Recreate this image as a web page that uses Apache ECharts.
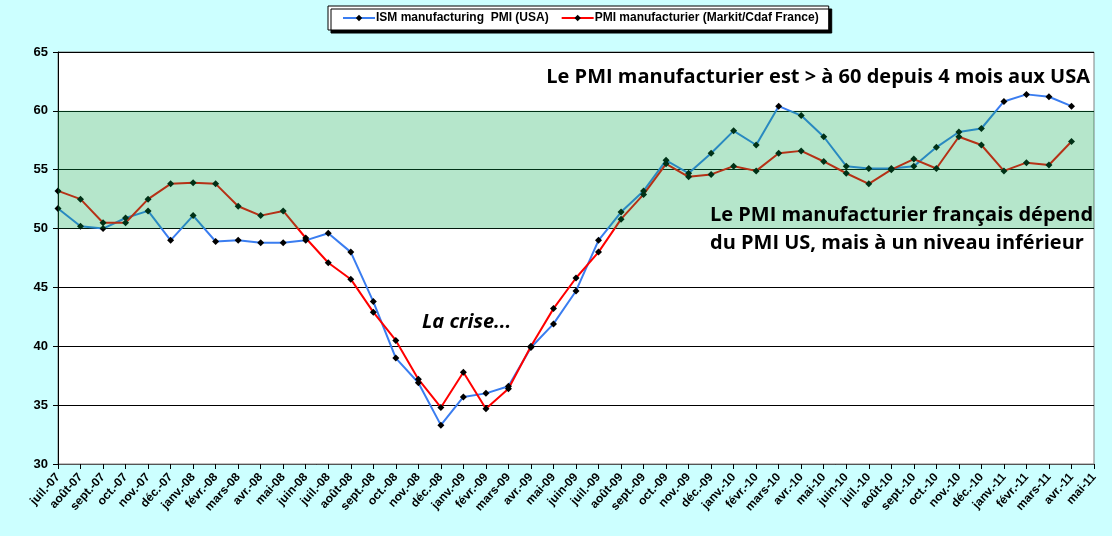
<!DOCTYPE html>
<html>
<head>
<meta charset="utf-8">
<script src="https://cdn.jsdelivr.net/npm/echarts@6/dist/echarts.min.js"></script>
<style>
  html, body { margin: 0; padding: 0; background: #CCFFFF; }
  #root { width: 1112px; height: 536px; }
</style>
</head>
<body>
<div id="root"></div>
<script>
const months = [
  'juil.-07', 'août-07', 'sept.-07', 'oct.-07', 'nov.-07', 'déc.-07',
  'janv.-08', 'févr.-08', 'mars-08', 'avr.-08', 'mai-08', 'juin-08',
  'juil.-08', 'août-08', 'sept.-08', 'oct.-08', 'nov.-08', 'déc.-08',
  'janv.-09', 'févr.-09', 'mars-09', 'avr.-09', 'mai-09', 'juin-09',
  'juil.-09', 'août-09', 'sept.-09', 'oct.-09', 'nov.-09', 'déc.-09',
  'janv.-10', 'févr.-10', 'mars-10', 'avr.-10', 'mai-10', 'juin-10',
  'juil.-10', 'août-10', 'sept.-10', 'oct.-10', 'nov.-10', 'déc.-10',
  'janv.-11', 'févr.-11', 'mars-11', 'avr.-11', 'mai-11'
];

const ismUsa = [
  51.7, 50.2, 50.0, 50.9, 51.5, 49.0, 51.1, 48.9, 49.0, 48.8, 48.8, 49.0,
  49.6, 48.0, 43.8, 39.0, 36.9, 33.3, 35.7, 36.0, 36.6, 39.9, 41.9, 44.7,
  49.0, 51.4, 53.2, 55.8, 54.7, 56.4, 58.3, 57.1, 60.4, 59.6, 57.8, 55.3,
  55.1, 55.1, 55.3, 56.9, 58.2, 58.5, 60.8, 61.4, 61.2, 60.4, null
];

const pmiFrance = [
  53.2, 52.5, 50.5, 50.5, 52.5, 53.8, 53.9, 53.8, 51.9, 51.1, 51.5, 49.2,
  47.1, 45.7, 42.9, 40.5, 37.2, 34.8, 37.8, 34.7, 36.4, 40.0, 43.2, 45.8,
  48.0, 50.8, 52.9, 55.5, 54.4, 54.6, 55.3, 54.9, 56.4, 56.6, 55.7, 54.7,
  53.8, 55.0, 55.9, 55.1, 57.8, 57.1, 54.9, 55.6, 55.4, 57.4, null
];

const yTicks = [30, 35, 40, 45, 50, 55, 60, 65];
const band = [50, 60];

const container = document.getElementById('root');
const myChart = echarts.init(container);

const lineSerie = (name, data, color) => ({
  name,
  type: 'line',
  data,
  z: 2,
  symbol: 'diamond',
  symbolSize: 7,
  lineStyle: { color, width: 2 },
  itemStyle: { color: '#000', borderWidth: 0 },
  emphasis: { disabled: true },
  animation: false
});

const option = {
  backgroundColor: '#CCFFFF',
  textStyle: { fontFamily: 'Liberation Sans, Arial, sans-serif' },
  legend: {
    data: ['ISM manufacturing  PMI (USA)', 'PMI manufacturier (Markit/Cdaf France)'],
    left: 328,
    top: 6,
    padding: [6, 10, 6, 14],
    itemGap: 12,
    itemWidth: 32,
    itemHeight: 8,
    backgroundColor: '#fff',
    borderColor: '#000',
    borderWidth: 1,
    shadowColor: '#000',
    shadowOffsetX: 3,
    shadowOffsetY: 3,
    shadowBlur: 0,
    textStyle: { fontSize: 12, fontWeight: 'bold', color: '#000', padding: [0, 0, 0, -4] }
  },
  grid: {
    left: 58,
    right: 18,
    top: 52,
    bottom: 72,
    show: true,
    backgroundColor: '#fff',
    borderColor: '#808080',
    borderWidth: 1
  },
  xAxis: {
    type: 'category',
    data: months,
    boundaryGap: false,
    axisLine: { lineStyle: { color: '#555', width: 1 } },
    axisTick: { show: true, interval: 0, length: 5, lineStyle: { color: '#000' } },
    axisLabel: {
      interval: 0,
      rotate: 48,
      fontSize: 12,
      fontWeight: 'bold',
      color: '#000',
      margin: 11
    },
    splitLine: { show: false }
  },
  yAxis: {
    type: 'value',
    min: yTicks[0],
    max: yTicks[yTicks.length - 1],
    interval: 5,
    axisLine: { show: true, lineStyle: { color: '#000', width: 1 } },
    axisTick: { show: true, length: 5, lineStyle: { color: '#000' } },
    axisLabel: { fontSize: 13, fontWeight: 'bold', color: '#000', margin: 10 },
    splitLine: { lineStyle: { color: '#000', width: 1 } }
  },
  series: [
    lineSerie('ISM manufacturing  PMI (USA)', ismUsa, '#3A7DF0'),
    lineSerie('PMI manufacturier (Markit/Cdaf France)', pmiFrance, '#FF0000'),
    {
      name: 'zone',
      type: 'line',
      data: [],
      z: 5,
      silent: true,
      markArea: {
        silent: true,
        z: 10,
        // translucent green laid over the lines, as in the original
        itemStyle: { color: 'rgba(0,168,75,0.29)' },
        data: [[{ yAxis: band[0] }, { yAxis: band[1] }]]
      }
    }
  ],
  graphic: [
    {
      type: 'text',
      right: 22,
      top: 67,
      z: 100,
      style: {
        text: 'Le PMI manufacturier est > à 60 depuis 4 mois aux USA',
        font: 'bold 20px "Open Sans", sans-serif',
        fill: '#000'
      }
    },
    {
      type: 'text',
      left: 710,
      top: 201,
      z: 100,
      style: {
        text: 'Le PMI manufacturier français dépend\ndu PMI US, mais à un niveau inférieur',
        font: 'bold 20px "Open Sans", sans-serif',
        lineHeight: 28,
        fill: '#000'
      }
    },
    {
      type: 'text',
      left: 422,
      top: 312,
      z: 100,
      style: {
        text: 'La crise...',
        font: 'italic bold 20px "Open Sans", sans-serif',
        fill: '#000'
      }
    }
  ]
};

myChart.setOption(option);

window.onresize = () => myChart.resize();
</script>
</body>
</html>
